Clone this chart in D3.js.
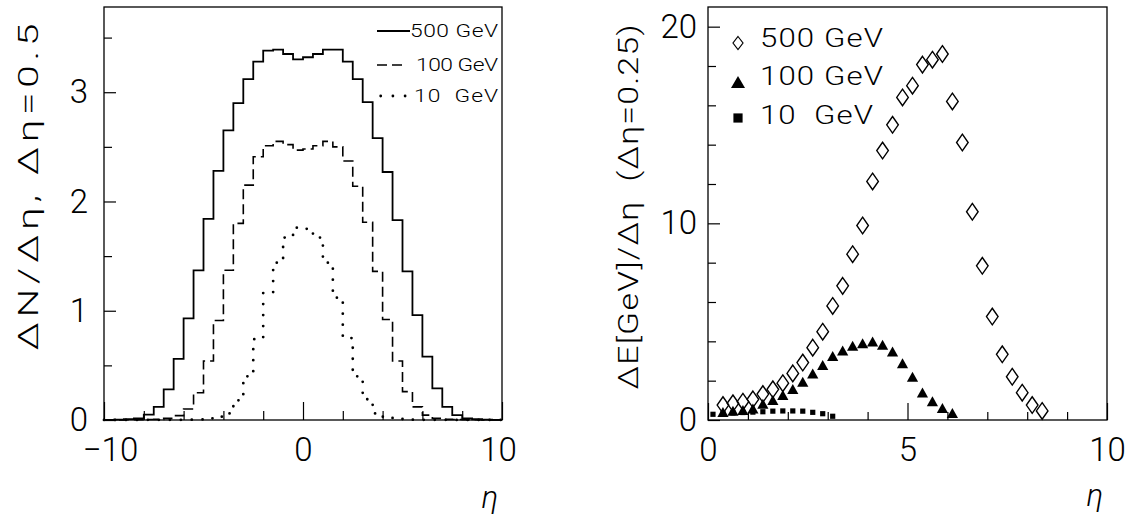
<!DOCTYPE html>
<html><head><meta charset="utf-8">
<script src="https://cdn.jsdelivr.net/npm/d3@7"></script>
<style>
body{margin:0;background:#fff;}
svg{display:block;}
text{font-family:Roboto,"Open Sans",Lato,"Liberation Sans",sans-serif;font-weight:300;fill:#000;}
</style></head>
<body>
<svg id="c" width="1133" height="515"></svg>
<script>
// ---------- Left panel: histograms, 40 bins of width 0.5 from -10 to 10 ----------
const binLow = d3.range(-10, 10, 0.5);
const h500 = [0.002,0.004,0.008,0.015,0.05,0.12,0.28,0.56,0.93,1.37,
              1.84,2.28,2.65,2.90,3.12,3.28,3.38,3.39,3.35,3.30,
              3.32,3.35,3.39,3.39,3.28,3.12,2.91,2.58,2.27,1.83,
              1.36,0.96,0.58,0.29,0.12,0.045,0.015,0.007,0.003,0.001];
const h100 = [0.001,0.001,0.002,0.003,0.004,0.006,0.015,0.04,0.10,0.25,
              0.54,0.91,1.37,1.80,2.15,2.41,2.51,2.55,2.52,2.47,
              2.48,2.51,2.55,2.50,2.37,2.14,1.81,1.36,0.92,0.54,
              0.26,0.12,0.045,0.015,0.006,0.004,0.003,0.002,0.001,0.001];
const h10  = [0.001,0.001,0.001,0.001,0.002,0.002,0.002,0.002,0.003,0.005,
              0.015,0.03,0.06,0.18,0.40,0.74,1.17,1.44,1.67,1.76,
              1.75,1.67,1.44,1.12,0.75,0.40,0.19,0.06,0.03,0.015,
              0.005,0.003,0.002,0.002,0.002,0.001,0.001,0.001,0.001,0.001];
const leftLegend = ["500 GeV","100 GeV","10  GeV"];
const leftXMajor = [-10,0,10], leftXMinor = [-8,-6,-4,-2,2,4,6,8];
const leftYMajor = [0,1,2,3], leftYMinor = [0.5,1.5,2.5,3.5];

// ---------- Right panel: energy flow points ----------
const eta500 = [0.375,0.625,0.875,1.125,1.375,1.625,1.875,2.125,2.375,2.625,2.875,3.125,3.375,3.625,3.875,
                4.125,4.375,4.625,4.875,5.125,5.375,5.625,5.875,6.125,6.375,6.625,6.875,7.125,7.375,7.625,7.875,8.125,8.375];
const e500 = [0.76,0.85,0.93,1.05,1.32,1.56,1.87,2.37,2.92,3.68,4.49,5.80,6.82,8.43,9.89,
              12.13,13.7,15.01,16.40,17.0,18.07,18.32,18.61,16.2,14.11,10.59,7.84,5.26,3.34,2.20,1.39,0.76,0.46];
const eta100 = [0.375,0.625,0.875,1.125,1.375,1.625,1.875,2.125,2.375,2.625,2.875,3.125,
                3.375,3.625,3.875,4.125,4.375,4.625,4.875,5.125,5.375,5.625,5.875,6.125];
const e100 = [0.41,0.47,0.51,0.59,0.83,1.02,1.27,1.58,1.95,2.37,2.80,3.26,
              3.53,3.77,3.90,3.99,3.82,3.48,2.88,2.20,1.40,0.95,0.61,0.35];
const eta10 = [0.125,0.375,0.625,0.875,1.125,1.375,1.625,1.875,2.125,2.375,2.625,2.875,3.125];
const e10 = [0.29,0.32,0.36,0.38,0.40,0.42,0.45,0.46,0.46,0.45,0.39,0.32,0.19];
const rightLegend = ["500 GeV","100 GeV","10  GeV"];
const rightXMajor = [0,5,10], rightXMinor = [1,2,3,4,6,7,8,9];
const rightYMajor = [0,10,20], rightYMinor = [2,4,6,8,12,14,16,18];

const svg = d3.select("#c");

// ---------- scales ----------
const xL = d3.scaleLinear().domain([-10,10]).range([104,502]);
const yL = d3.scaleLinear().domain([0,3.78]).range([420,7]);
const xR = d3.scaleLinear().domain([0,10]).range([708,1107]);
const yR = d3.scaleLinear().domain([0,21]).range([420,7]);

function frame(x, y){
  svg.append("rect").attr("x",x.range()[0]).attr("y",y.range()[1])
     .attr("width",x.range()[1]-x.range()[0]).attr("height",y.range()[0]-y.range()[1])
     .attr("fill","none").attr("stroke","#000").attr("stroke-width",1.3);
}
function axes(x, y, xMaj, xMin, xMajLen, xMinLen, yMaj, yMin, yMajLen, yMinLen, yPad){
  const gx1 = svg.append("g").attr("transform",`translate(0,${y.range()[0]})`)
    .call(d3.axisBottom(x).tickValues(xMin).tickSize(-xMinLen).tickFormat(""));
  const gx2 = svg.append("g").attr("transform",`translate(0,${y.range()[0]})`)
    .call(d3.axisBottom(x).tickValues(xMaj).tickSize(-xMajLen).tickPadding(17).tickFormat(d3.format("d")));
  const gy1 = svg.append("g").attr("transform",`translate(${x.range()[0]},0)`)
    .call(d3.axisLeft(y).tickValues(yMin).tickSize(-yMinLen).tickFormat(""));
  const gy2 = svg.append("g").attr("transform",`translate(${x.range()[0]},0)`)
    .call(d3.axisLeft(y).tickValues(yMaj).tickSize(-yMajLen).tickPadding(yPad).tickFormat(d3.format("d")));
  [gx1,gx2,gy1,gy2].forEach(g=>{
    g.select(".domain").remove();
    g.selectAll(".tick line").attr("stroke","#000").attr("stroke-width",1.2);
    g.selectAll("text").attr("font-size",33).attr("font-family",null).attr("fill","#000");
  });
  gx2.selectAll("text").attr("dy","0.72em");
  return gx2;
}
// horizontally stretched text (wide, thin lettering of the original)
function wideText(tx, ty, rot, str, size, sx, target, anchor, baseline){
  const t = svg.append("text")
    .attr("transform",`translate(${tx},${ty}) rotate(${rot}) scale(${sx},1)`)
    .attr("text-anchor",anchor).attr("font-size",size)
    .style("white-space","pre").attr("xml:space","preserve")
    .attr("textLength",target/sx).attr("lengthAdjust","spacing").text(str);
  if(baseline) t.attr("dominant-baseline",baseline);
  return t;
}

// ---------- Left panel ----------
frame(xL, yL);
const lx = axes(xL, yL, leftXMajor, leftXMinor, 18, 9, leftYMajor, leftYMinor, 12, 8, 16);
lx.selectAll("text").attr("dx",d=>d===-10?6:(d===10?-4:0));

const stepLine = d3.line().x(d=>xL(d[0])).y(d=>yL(d[1])).curve(d3.curveStepAfter);
function histPts(vals){
  const p = binLow.map((b,i)=>[b, vals[i]]);
  p.push([10, vals[vals.length-1]]);
  return p;
}
svg.append("path").attr("d",stepLine(histPts(h500))).attr("fill","none")
   .attr("stroke","#000").attr("stroke-width",1.8);
svg.append("path").attr("d",stepLine(histPts(h100))).attr("fill","none")
   .attr("stroke","#000").attr("stroke-width",1.6).attr("stroke-dasharray","10,5");
svg.append("path").attr("d",stepLine(histPts(h10))).attr("fill","none")
   .attr("stroke","#000").attr("stroke-width",2.8).attr("stroke-linecap","round")
   .attr("stroke-dasharray","0,11");

// left legend
const llY = [37,71,102], llLen = [88,82,84];
const llStyles = [{dash:null,w:1.8,cap:"butt",x0:377,x1:410},
                  {dash:"10,5",w:1.6,cap:"butt",x0:377,x1:402},
                  {dash:"0,12.2",w:2.8,cap:"round",x0:380.7,x1:406}];
leftLegend.forEach((t,i)=>{
  const s = llStyles[i];
  const l = svg.append("line").attr("x1",s.x0).attr("x2",s.x1).attr("y1",llY[i]-6).attr("y2",llY[i]-6)
     .attr("stroke","#000").attr("stroke-width",s.w).attr("stroke-linecap",s.cap);
  if(s.dash) l.attr("stroke-dasharray",s.dash);
  wideText(498, llY[i], 0, t, 19, 1.2, llLen[i], "end");
});

// left axis titles
wideText(29, 187, -90, "ΔN/Δη, Δη=0.5", 27, 1.5, 327, "middle", "central");
svg.append("text").attr("x",490).attr("y",497).attr("text-anchor","middle").attr("dominant-baseline","central")
   .attr("font-family","'Liberation Serif',serif").attr("font-style","italic").attr("font-weight",400)
   .attr("font-size",31).text("η");

// ---------- Right panel ----------
frame(xR, yR);
axes(xR, yR, rightXMajor, rightXMinor, 17, 8, rightYMajor, rightYMinor, 12, 8, 11);

function diamond(cx, cy, hw, hh){ return `M${cx},${cy-hh}L${cx+hw},${cy}L${cx},${cy+hh}L${cx-hw},${cy}Z`; }
function triangle(cx, cy, hw, hh){ return `M${cx},${cy-hh}L${cx+hw},${cy+hh}L${cx-hw},${cy+hh}Z`; }
function square(cx, cy, h){ return `M${cx-h},${cy-h}h${2*h}v${2*h}h${-2*h}Z`; }

svg.append("g").selectAll("path").data(eta10.map((e,i)=>[e,e10[i]])).join("path")
   .attr("d",d=>square(xR(d[0]), yR(d[1]), 2.6)).attr("fill","#000");
svg.append("g").selectAll("path").data(eta100.map((e,i)=>[e,e100[i]])).join("path")
   .attr("d",d=>triangle(xR(d[0]), yR(d[1]), 5.6, 5)).attr("fill","#000");
svg.append("g").selectAll("path").data(eta500.map((e,i)=>[e,e500[i]])).join("path")
   .attr("d",d=>diamond(xR(d[0]), yR(d[1]), 5.8, 8.3)).attr("fill","#fff").attr("fill-opacity",0)
   .attr("stroke","#000").attr("stroke-width",1.4);

// right legend
const rlY = [47,85,124], rlLen = [123,123,113], rlMk = [43,82,118];
svg.append("path").attr("d",diamond(738, rlMk[0], 5, 6.5)).attr("fill","none").attr("stroke","#000").attr("stroke-width",1.2);
svg.append("path").attr("d",triangle(738, rlMk[1], 7, 6)).attr("fill","#000");
svg.append("path").attr("d",square(738, rlMk[2], 4.6)).attr("fill","#000");
rightLegend.forEach((t,i)=>{
  wideText(760, rlY[i], 0, t, 26, 1.2, rlLen[i], "start");
});

// right axis titles
wideText(629, 207, -90, "ΔE[GeV]/Δη  (Δη=0.25)", 27, 1.25, 365, "middle", "central");
svg.append("text").attr("x",1095).attr("y",495).attr("text-anchor","middle").attr("dominant-baseline","central")
   .attr("font-family","'Liberation Serif',serif").attr("font-style","italic").attr("font-weight",400)
   .attr("font-size",31).text("η");
</script>
</body></html>
